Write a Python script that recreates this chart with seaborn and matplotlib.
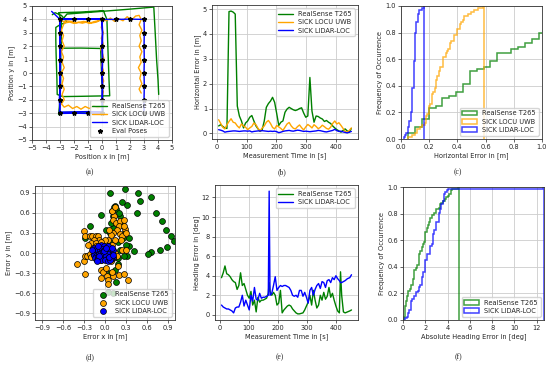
import numpy as np
import matplotlib
matplotlib.use("Agg")
import matplotlib.pyplot as plt
from matplotlib.ticker import MultipleLocator
import seaborn as sns

# ---------------- data ----------------
labels = ["RealSense T265", "SICK LOCU UWB", "SICK LIDAR-LOC"]
colors = ["green", "orange", "blue"]

# (a) trajectories
traj_lidar_x = [-3.6, -3.3, -3.0, -2.0, -1.0, 0.0, 0.02, 0.0, 0.03, 0.0, 0.02, 0.0, 0.02, -1.0, -2.0, -3.0,
                -3.05, -3.0, -3.02, -3.0, -3.02, -3.0, -3.0, -2.0, -1.0, 0.0, 0.05, 0.03, 0.05, 0.02, 0.05,
                0.03, 0.05, -1.0, -2.0, -3.05, -2.98, -2.97, -2.98, -2.97, -2.96, -2.98, -2.98, -2.0, -1.0,
                0.0, 1.0, 2.0, 3.0, 3.02, 3.0, 3.02, 3.0, 3.02, 3.0, 3.0]
traj_lidar_y = [4.6, 4.3, 4.0, 4.0, 4.02, 4.0, 3.0, 2.0, 1.0, 0.0, -1.0, -2.0, -2.9, -2.88, -2.9, -2.92,
                -2.0, -1.0, 0.0, 1.0, 2.0, 3.0, 4.0, 4.02, 4.0, 4.02, 3.0, 2.0, 1.0, 0.0, -1.0,
                -2.0, -3.0, -3.02, -3.0, -3.02, -2.0, -1.0, 0.0, 1.0, 2.0, 3.0, 4.02, 4.0, 4.02,
                4.0, 4.0, 4.02, 4.0, 3.0, 2.0, 1.0, 0.0, -1.0, -2.0, -3.0]

traj_uwb_x = [-2.85, -2.6, -2.3, -2.0, -1.7, -1.4, -1.1, -0.8, -0.5, -0.25, -0.1, 0.05, -0.05, 0.1, -0.05,
              0.08, -0.1, 0.05, 0.15, -0.05, 0.1, 0.0, 0.12, -0.05, 0.1, 0.0, 0.15, -0.05, -0.3, -0.6,
              -0.9, -1.2, -1.5, -1.8, -2.1, -2.4, -2.7, -2.9, -2.7, -2.85, -2.7, -2.85, -2.75, -2.9, -2.7,
              -2.85, -2.75, -2.9, -2.7, -2.85, -2.75, -2.9, -2.75, -2.6, -2.2, -1.8, -1.3, -0.9, -0.4, 0.0,
              0.3, 0.6, 0.9, 1.2, 1.5, 1.8, 2.1, 2.4, 2.65, 2.8, 2.65, 2.85, 2.7, 2.8, 2.65, 2.85, 2.7,
              2.8, 2.6, 2.8, 2.7, 2.85, 2.65, 2.8]
traj_uwb_y = [3.9, 3.75, 3.8, 3.7, 3.78, 3.72, 3.8, 3.75, 3.85, 3.9, 4.1, 3.8, 3.4, 3.0, 2.6,
              2.2, 1.8, 1.4, 1.0, 0.6, 0.2, -0.2, -0.6, -1.0, -1.4, -1.8, -2.2, -2.5, -2.6, -2.45,
              -2.65, -2.5, -2.7, -2.5, -2.65, -2.4, -2.55, -2.3, -2.0, -1.6, -1.2, -0.8, -0.4, 0.0, 0.4,
              0.8, 1.2, 1.6, 2.0, 2.4, 2.8, 3.2, 3.6, 3.9, 3.85, 3.75, 3.85, 3.7, 3.8, 4.0,
              3.9, 4.1, 3.85, 4.05, 3.9, 4.2, 3.95, 4.25, 4.3, 4.0, 3.6, 3.2, 2.8, 2.4, 2.0, 1.6, 1.2,
              0.8, 0.4, 0.0, -0.4, -0.8, -1.2, -1.5]

traj_t265_x = [-3.55, -3.35, -2.9, -2.5, -3.0, -3.3, -3.3, -3.28, -3.25, -3.22, -3.2, -2.8, -1.5, -0.5,
               0.55, 0.5, 0.45, 0.4, 0.35, 0.1, -1.5, -3.1, -2.95, -2.95, -2.92, -1.5, -0.1, -0.05,
               0.0, 0.05, 0.08, -1.5, -3.0, -3.1, -3.0, -2.95, -2.95, -2.95, -2.9, -2.5, 0.0, 1.8,
               3.7, 3.8, 3.9, 4.0, 4.05]
traj_t265_y = [4.35, 4.5, 4.3, 3.8, 3.6, 3.4, 2.5, 1.5, 0.5, -0.5, -1.6, -1.76, -1.74, -1.72,
               -1.7, -0.5, 1.0, 2.5, 4.0, 4.65, 4.55, 4.5, 4.0, 3.0, 1.85, 1.86, 1.83, 0.5,
               -1.0, -2.0, -2.9, -2.92, -2.95, -3.1, -2.0, -0.5, 1.0, 2.5, 3.9, 4.4, 4.6, 4.75,
               4.92, 3.0, 1.0, -0.5, -1.6]

eval_x = [-3, -2, -1, 0, 1, 2, 3, -3, -3, -3, -3, -3, -3, -3, -2, -1, 0, 0, 0, 0, 0, 0, 3, 3, 3, 3, 3, 3, 3]
eval_y = [4, 4, 4, 4, 4, 4, 4, 3, 2, 1, 0, -1, -2, -3, -3, -3, -3, -2, -1, 0, 1, 2, 3, 2, 1, 0, -1, -2, -3]

# (b)/(c) horizontal error over time
time_s = [5, 12, 19, 26, 33, 40, 47, 54, 61, 68, 75, 82, 89, 96, 103, 110, 117, 124, 131, 138, 145, 152,
          159, 166, 173, 180, 187, 194, 201, 208, 215, 222, 229, 236, 243, 250, 257, 264, 271, 278, 285,
          292, 299, 306, 313, 320, 327, 334, 341, 348, 355, 362, 369, 376, 383, 390, 397, 404, 411, 418,
          425, 432, 439, 446, 453]
horiz_t265 = [0.3, 0.35, 0.28, 0.22, 0.2, 4.9, 4.92, 4.88, 4.8, 1.1, 0.7, 0.5, 0.22, 0.42, 0.5, 0.65,
              0.72, 0.5, 0.3, 0.18, 0.08, 0.15, 0.5, 1.05, 1.2, 1.3, 1.45, 1.25, 0.8, 0.32, 0.45, 0.5,
              0.85, 0.98, 1.05, 1.0, 0.95, 0.92, 0.95, 1.0, 1.03, 0.82, 0.65, 0.7, 2.25, 0.9, 0.45,
              0.7, 0.68, 0.62, 0.58, 0.48, 0.52, 0.45, 0.4, 0.3, 0.22, 0.15, 0.1, 0.05, 0.12, 0.18,
              0.1, 0.05, 0.2]
horiz_uwb = [0.55, 0.4, 0.25, 0.18, 0.35, 0.48, 0.59, 0.45, 0.42, 0.3, 0.22, 0.38, 0.3, 0.25, 0.15,
             0.22, 0.28, 0.42, 0.35, 0.2, 0.1, 0.22, 0.3, 0.45, 0.52, 0.4, 0.24, 0.18, 0.32, 0.26,
             0.2, 0.12, 0.25, 0.38, 0.44, 0.3, 0.21, 0.18, 0.27, 0.34, 0.23, 0.14, 0.26, 0.36, 0.3,
             0.22, 0.35, 0.28, 0.19, 0.24, 0.33, 0.27, 0.2, 0.17, 0.25, 0.4, 0.5, 0.38, 0.43, 0.32,
             0.2, 0.08, 0.05, 0.12, 0.22]
horiz_lidar = [0.15, 0.13, 0.1, 0.05, 0.07, 0.08, 0.09, 0.1, 0.1, 0.09, 0.08, 0.09, 0.1, 0.1, 0.09,
               0.1, 0.06, 0.08, 0.09, 0.1, 0.1, 0.11, 0.1, 0.09, 0.08, 0.09, 0.08, 0.09, 0.07, 0.03,
               0.05, 0.08, 0.1, 0.11, 0.12, 0.1, 0.09, 0.11, 0.13, 0.12, 0.1, 0.08, 0.09, 0.08, 0.07,
               0.08, 0.09, 0.1, 0.12, 0.11, 0.09, 0.07, 0.06, 0.08, 0.1, 0.12, 0.165, 0.11, 0.08, 0.09,
               0.06, 0.04, 0.02, 0.05, 0.08]

# (d) error scatter
err_t265_x = [0.07, 0.28, 0.47, 0.66, 0.5, 0.46, 0.73, 0.82, 0.87, 0.94, 0.98, 0.88, 0.78, 0.66, 0.62,
              0.41, 0.34, 0.31, -0.05, 0.14, 0.16, 0.32, 0.12, 0.21, 0.26, -0.22, -0.29, 0.12, 0.07, 0.02,
              0.35, 0.28, 0.07, 0.18, 0.21, 0.19, 0.18, 0.15, 0.07, -0.01, 0.16, 0.11, 0.04, 0.25, 0.1,
              0.2, 0.13, 0.24, 0.3, 0.09, 0.22, 0.27]
err_t265_y = [0.89, 0.95, 0.89, 0.84, 0.78, 0.6, 0.6, 0.48, 0.35, 0.25, 0.18, 0.09, 0.05, 0.01, -0.02,
              0.03, 0.1, -0.04, 0.57, 0.7, 0.65, 0.72, 0.55, 0.55, 0.22, 0.4, 0.22, 0.37, 0.3, 0.35,
              0.22, 0.32, 0.17, 0.16, 0.05, -0.08, -0.16, -0.26, -0.3, -0.25, -0.43, -0.6, -0.58, 0.76,
              0.62, 0.6, 0.68, 0.45, 0.12, 0.45, 0.42, -0.05]
err_uwb_x = [-0.3, -0.28, -0.22, -0.18, -0.13, -0.1, -0.08, -0.16, -0.2, -0.13, -0.17, -0.13, -0.1, -0.4,
             -0.3, -0.28, -0.25, -0.22, -0.29, -0.2, -0.05, -0.03, -0.05, 0.03, 0.04, 0.12, 0.2, 0.27,
             0.33, 0.05, 0.1, 0.02, 0.13, 0.12, 0.16, 0.22, 0.27, 0.2, 0.17, 0.12, 0.09, 0.21, 0.25,
             0.28, 0.23, 0.14, 0.1, 0.06, 0.15, 0.17, 0.12, 0.08, 0.05, 0.0, 0.25, 0.3, 0.1, 0.15,
             -0.05, -0.15, 0.27, 0.3, 0.06, -0.24, -0.06, 0.18]
err_uwb_y = [0.33, 0.25, 0.25, 0.26, 0.25, 0.25, 0.2, 0.2, 0.15, 0.15, 0.08, 0.1, 0.05, -0.16,
             -0.12, -0.05, -0.04, -0.02, -0.32, -0.06, -0.25, -0.28, -0.38, -0.35, -0.4, -0.35, -0.33, -0.32,
             -0.4, -0.47, -0.28, -0.22, 0.55, 0.5, 0.45, 0.48, 0.5, 0.4, 0.35, 0.3, 0.27, 0.28, 0.25,
             0.36, 0.19, 0.2, 0.12, 0.08, 0.0, -0.05, -0.08, -0.12, 0.2, 0.2, 0.05, 0.05, 0.62, 0.68,
             -0.1, -0.03, 0.4, 0.3, 0.35, 0.12, 0.16, -0.2]
err_lidar_x = [-0.15, -0.12, -0.08, -0.05, -0.02, 0.02, 0.06, 0.1, -0.15, -0.12, -0.1, -0.07, -0.04, -0.01,
               0.03, 0.07, 0.1, -0.16, -0.13, -0.09, -0.06, -0.03, 0.0, 0.04, 0.08, 0.11, -0.14, -0.1,
               -0.07, -0.04, -0.01, 0.02, 0.05, 0.09, -0.11, -0.06, 0.0, 0.04, 0.07, -0.02, 0.05, -0.1,
               -0.18, 0.12, 0.1, -0.08, 0.01, 0.06, -0.12, 0.12]
err_lidar_y = [0.07, 0.08, 0.1, 0.12, 0.1, 0.08, 0.05, 0.03, 0.02, 0.0, 0.04, 0.05, 0.06, 0.05,
               0.04, 0.02, -0.01, -0.03, -0.05, -0.02, 0.0, 0.01, 0.0, -0.02, -0.04, -0.06, -0.08, -0.06,
               -0.08, -0.05, -0.07, -0.05, -0.08, -0.09, -0.1, -0.11, -0.1, -0.12, -0.1, 0.03, 0.1, 0.1,
               0.05, 0.05, 0.08, -0.04, 0.07, -0.06, -0.12, -0.03]

# (e)/(f) heading error over time
heading_time = [5, 11, 17, 23, 29, 35, 41, 47, 53, 59, 65, 71, 77, 83, 89, 95, 101, 107, 113, 119, 125,
                131, 137, 143, 149, 155, 161, 167, 170, 173, 179, 185, 191, 197, 203, 209, 215, 221, 227,
                233, 239, 245, 251, 257, 263, 269, 275, 281, 287, 293, 299, 305, 311, 317, 323, 329, 335,
                341, 347, 353, 359, 365, 371, 377, 383, 389, 395, 401, 407, 413, 417, 421, 427, 433, 441,
                449, 455]
heading_t265 = [3.8, 4.3, 5.0, 4.2, 4.1, 3.9, 3.6, 3.4, 3.3, 2.6, 3.0, 4.3, 3.0, 3.2, 2.6, 2.0, 1.7,
                2.4, 1.0, 1.5, 0.3, 1.8, 1.3, 1.5, 1.5, 1.6, 1.7, 2.2, 3.3, 2.4, 2.0, 2.3, 2.0, 1.0, 1.2,
                2.5, 0.2, 0.5, 0.7, 0.9, 1.0, 0.9, 0.6, 0.4, 0.2, 0.1, 0.1, 0.15, 0.2, 0.5, 0.9, 1.3,
                2.0, 1.0, 2.5, 1.5, 0.7, 1.0, 2.0, 1.5, 2.3, 1.6, 1.9, 2.8, 1.8, 2.2, 1.5, 0.9, 0.4,
                0.2, 4.4, 2.0, 0.3, 0.2, 0.3, 0.4, 0.5]
heading_lidar = [1.0, 0.8, 0.7, 0.6, 0.6, 0.5, 0.4, 0.2, 0.7, 0.8, 0.8, 1.3, 2.0, 0.9, 1.5, 1.0, 0.5,
                 2.0, 1.4, 2.8, 1.6, 1.5, 2.2, 1.7, 1.8, 1.8, 1.9, 2.0, 12.65, 2.0, 2.2, 3.0, 3.9, 2.5, 2.8,
                 3.0, 2.9, 3.0, 3.0, 2.9, 2.8, 2.5, 2.0, 1.9, 2.0, 1.8, 2.5, 2.5, 1.9, 2.3, 1.8, 1.2,
                 2.5, 2.8, 2.0, 2.6, 3.0, 3.2, 2.7, 3.4, 3.3, 2.8, 3.5, 3.6, 3.3, 3.8, 3.6, 4.0, 3.7,
                 3.5, 3.3, 3.3, 3.4, 3.5, 3.7, 3.8, 4.1]

# ---------------- style ----------------
sns.set_style("whitegrid", {"axes.edgecolor": "0.15", "grid.color": "0.8",
                            "xtick.bottom": True, "ytick.left": True})
fs = 4.8
plt.rcParams.update({
    "font.size": fs, "axes.labelsize": fs, "xtick.labelsize": fs, "ytick.labelsize": fs,
    "legend.fontsize": fs, "axes.linewidth": 0.6, "grid.linewidth": 0.6,
    "xtick.major.size": 2, "ytick.major.size": 2, "xtick.major.width": 0.5, "ytick.major.width": 0.5,
    "xtick.major.pad": 1.5, "ytick.major.pad": 1.5, "axes.labelpad": 1.5,
    "xtick.color": "0.15", "ytick.color": "0.15", "axes.labelcolor": "0.15",
})

fig = plt.figure(figsize=(5.5, 3.65), dpi=100)
W, H = 550, 365


def add_ax(l, t, r, b):
    return fig.add_axes([l / W, 1 - b / H, (r - l) / W, (b - t) / H])


ax_a = add_ax(32, 6, 172, 140)
ax_b = add_ax(212, 5, 358, 139)
ax_c = add_ax(401, 6, 542, 139)
ax_d = add_ax(35, 186, 175, 320)
ax_e = add_ax(215, 185, 358, 320)
ax_f = add_ax(403, 187, 544, 320)

lw = 1.0
leg_kw = dict(fancybox=True, framealpha=0.8, borderpad=0.4, labelspacing=0.35, handlelength=2.2)

# (a)
for xs, ys, lab, c in [(traj_t265_x, traj_t265_y, labels[0], colors[0]),
                       (traj_uwb_x, traj_uwb_y, labels[1], colors[1]),
                       (traj_lidar_x, traj_lidar_y, labels[2], colors[2])]:
    sns.lineplot(x=xs, y=ys, sort=False, estimator=None, ax=ax_a, color=c, lw=lw, label=lab)
ax_a.plot(eval_x, eval_y, ls="none", marker="*", color="black", ms=3.2, label="Eval Poses")
ax_a.set_xlim(-5, 5)
ax_a.set_ylim(-5, 5)
ax_a.xaxis.set_major_locator(MultipleLocator(1))
ax_a.yaxis.set_major_locator(MultipleLocator(1))
ax_a.set_xlabel("Position x in [m]")
ax_a.set_ylabel("Position y in [m]")
ax_a.legend(loc="lower right", **leg_kw)

# (b)
for vals, lab, c in zip([horiz_t265, horiz_uwb, horiz_lidar], labels, colors):
    sns.lineplot(x=time_s, y=vals, ax=ax_b, color=c, lw=lw, label=lab)
ax_b.set_xlabel("Measurement Time in [s]")
ax_b.set_ylabel("Horizontal Error in [m]")
ax_b.legend(loc="upper right", **leg_kw)

# (c)
for vals, lab, c in zip([horiz_t265, horiz_uwb, horiz_lidar], labels, colors):
    ax_c.hist(vals, bins=100, cumulative=True, density=True, histtype="step",
              color=c, lw=1.1, alpha=0.75, label=lab)
ax_c.set_xlim(0, 1)
ax_c.set_ylim(0, 1)
ax_c.set_xlabel("Horizontal Error in [m]")
ax_c.set_ylabel("Frequency of Occurrence")
ax_c.legend(loc="lower right", **leg_kw)

# (d)
for xs, ys, lab, c in [(err_t265_x, err_t265_y, labels[0], colors[0]),
                       (err_uwb_x, err_uwb_y, labels[1], colors[1]),
                       (err_lidar_x, err_lidar_y, labels[2], colors[2])]:
    sns.scatterplot(x=xs, y=ys, ax=ax_d, color=c, s=18, edgecolor="black", linewidth=0.5, label=lab)
ax_d.set_xlim(-1, 1)
ax_d.set_ylim(-1, 1)
ticks_d = [-0.9, -0.6, -0.3, 0.0, 0.3, 0.6, 0.9]
ax_d.set_xticks(ticks_d)
ax_d.set_yticks(ticks_d)
ax_d.set_xlabel("Error x in [m]")
ax_d.set_ylabel("Error y in [m]")
ax_d.legend(loc="lower right", **leg_kw)

# (e)
for vals, lab, c in zip([heading_t265, heading_lidar], [labels[0], labels[2]], [colors[0], colors[2]]):
    sns.lineplot(x=heading_time, y=vals, ax=ax_e, color=c, lw=lw, label=lab)
ax_e.set_xlabel("Measurement Time in [s]")
ax_e.set_ylabel("Heading Error in [deg]")
ax_e.legend(loc="upper right", **leg_kw)

# (f)
for vals, lab, c in zip([heading_t265, heading_lidar], [labels[0], labels[2]], [colors[0], colors[2]]):
    ax_f.hist(vals, bins=100, cumulative=True, density=True, histtype="step",
              color=c, lw=1.1, alpha=0.75, label=lab)
ax_f.set_xlim(0, max(heading_lidar))
ax_f.set_ylim(0, 1)
ax_f.set_xlabel("Absolute Heading Error in [deg]")
ax_f.set_ylabel("Frequency of Occurrence")
ax_f.legend(loc="lower right", **leg_kw)

for ax in [ax_a, ax_b, ax_c, ax_d, ax_e, ax_f]:
    for s in ax.spines.values():
        s.set_color("0.2")

# panel letters
for txt, x, y in [("(a)", 90, 172), ("(b)", 282, 172), ("(c)", 458, 172),
                  ("(d)", 90, 357), ("(e)", 280, 357), ("(f)", 458, 357)]:
    fig.text(x / W, 1 - y / H, txt, ha="center", va="center", fontsize=5.5,
             family=["Liberation Serif", "DejaVu Serif"])

fig.savefig("out.png", dpi=100)
